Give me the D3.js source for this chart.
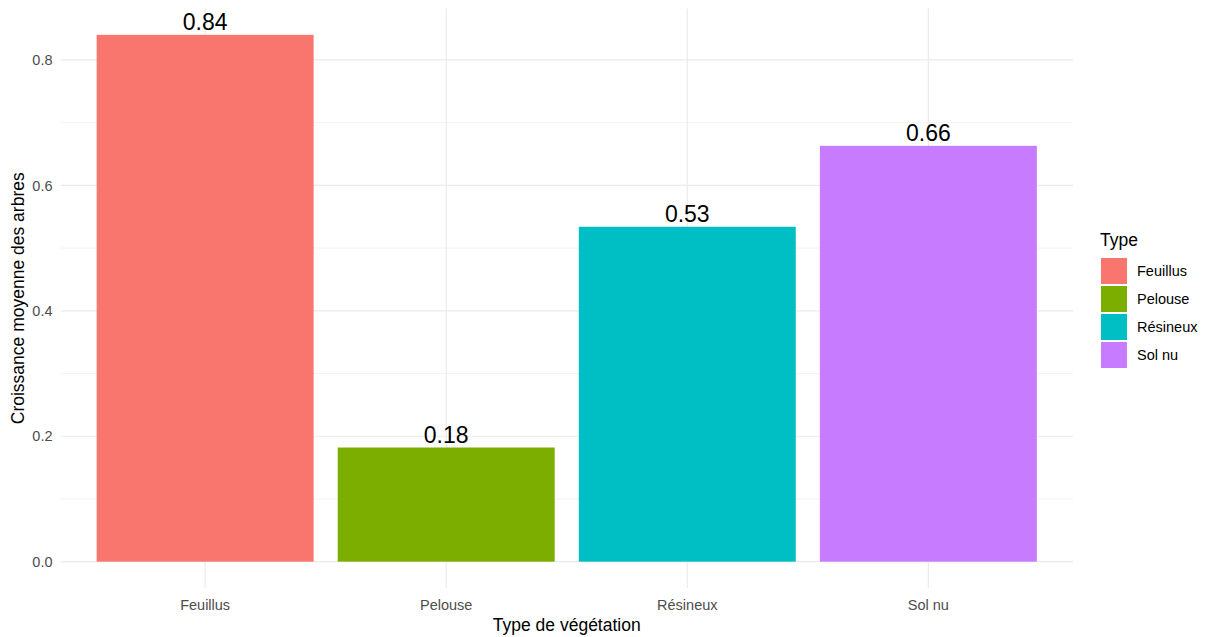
<!DOCTYPE html>
<html><head><meta charset="utf-8">
<script src="https://cdn.jsdelivr.net/npm/d3@7"></script>
<style>body{margin:0;background:#fff;font-family:"Liberation Sans",Arial,sans-serif}</style>
</head><body><svg id="c" width="1212" height="637"></svg>
<script>
const categories = ["Feuillus","Pelouse","Résineux","Sol nu"];
const values = [0.84, 0.182, 0.534, 0.663];
const colors = ["#F8766D","#7CAE00","#00BFC4","#C77CFF"];
const yTicks = [0, 0.2, 0.4, 0.6, 0.8];
const yMinor = [0.1, 0.3, 0.5, 0.7];

const svg = d3.select("#c");
const L = 60.5, R = 1073, T = 8.5, B = 588;
const x = d3.scaleBand().domain(categories).range([L, R]).paddingInner(0.1).paddingOuter(0.15);
const y = d3.scaleLinear().domain([-0.042, 0.882]).range([B, T]);
const grid = "#ebebeb";
const g = svg.append("g");
yMinor.forEach(v => g.append("line").attr("x1",L).attr("x2",R).attr("y1",y(v)).attr("y2",y(v)).attr("stroke",grid).attr("stroke-width",0.6));
yTicks.forEach(v => g.append("line").attr("x1",L).attr("x2",R).attr("y1",y(v)).attr("y2",y(v)).attr("stroke",grid).attr("stroke-width",1.2));
categories.forEach(c => g.append("line").attr("x1",x(c)+x.bandwidth()/2).attr("x2",x(c)+x.bandwidth()/2).attr("y1",T).attr("y2",B).attr("stroke",grid).attr("stroke-width",1.2));

svg.append("g").selectAll("rect").data(categories).join("rect")
  .attr("x", d => x(d)).attr("width", x.bandwidth())
  .attr("y", (d,i) => y(values[i])).attr("height", (d,i) => y(0) - y(values[i]))
  .attr("fill", (d,i) => colors[i]);

svg.append("g").selectAll("text").data(categories).join("text")
  .attr("x", d => x(d)+x.bandwidth()/2).attr("y", (d,i) => y(values[i]) - 5)
  .attr("text-anchor","middle").attr("font-size",23).attr("fill","#000")
  .text((d,i) => values[i].toFixed(2));

// y axis
const ya = svg.append("g").attr("transform",`translate(${L},0)`)
  .call(d3.axisLeft(y).tickValues(yTicks).tickFormat(d3.format(".1f")).tickSize(0).tickPadding(8));
ya.select(".domain").remove();
ya.selectAll("text").attr("font-size",14.5).attr("fill","#4d4d4d").attr("font-family","Liberation Sans, Arial, sans-serif");

// x axis
const xa = svg.append("g").attr("transform",`translate(0,${B})`)
  .call(d3.axisBottom(x).tickSize(0).tickPadding(12));
xa.select(".domain").remove();
xa.selectAll("text").attr("font-size",14.5).attr("fill","#4d4d4d").attr("font-family","Liberation Sans, Arial, sans-serif");

svg.append("text").attr("x",(L+R)/2).attr("y",631).attr("text-anchor","middle").attr("font-size",17.5).attr("fill","#000").text("Type de végétation");
svg.append("text").attr("transform",`translate(24,${(T+B)/2}) rotate(-90)`).attr("text-anchor","middle").attr("font-size",17.5).attr("fill","#000").text("Croissance moyenne des arbres");

// legend
const lg = svg.append("g").attr("transform","translate(1100,0)");
lg.append("text").attr("x",0).attr("y",246).attr("font-size",17.5).attr("fill","#000").text("Type");
categories.forEach((c,i) => {
  lg.append("rect").attr("x",1).attr("y",258+i*28).attr("width",26).attr("height",26).attr("fill",colors[i]);
  lg.append("text").attr("x",37).attr("y",258+i*28+18).attr("font-size",14.5).attr("fill","#000").text(c);
});
</script></body></html>
